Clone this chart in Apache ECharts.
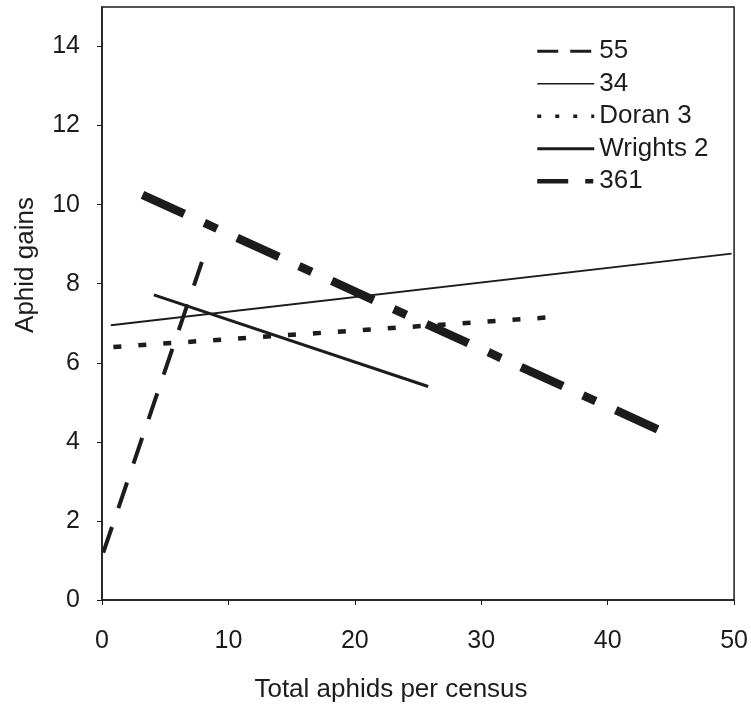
<!DOCTYPE html>
<html>
<head>
<meta charset="utf-8">
<script src="https://cdn.jsdelivr.net/npm/echarts@6/dist/echarts.min.js"></script>
<style>html,body{margin:0;padding:0;background:#fff}#c{width:751px;height:710px}</style>
</head>
<body>
<div id="c"></div>
<script>
// ---- data ----
const seriesNames = ['55', '34', 'Doran 3', 'Wrights 2', '361'];
const x55 = [0.1, 7.9];        const y55 = [1.2, 8.55];
const x34 = [0.7, 49.8];       const y34 = [6.95, 8.76];
const xDoran3 = [0.9, 35.4];   const yDoran3 = [6.4, 7.15];
const xWrights2 = [4.1, 25.8]; const yWrights2 = [7.72, 5.4];
const x361 = [3.2, 44.9];      const y361 = [10.25, 4.18];
const xTicks = [0, 10, 20, 30, 40, 50];
const yTicks = [0, 2, 4, 6, 8, 10, 12, 14];
const xTitle = 'Total aphids per census';
const yTitle = 'Aphid gains';

const ink = '#1c1c1c';
const font = 'Liberation Sans, Arial, sans-serif';
const pairs = (xs, ys) => xs.map((x, i) => [x, ys[i]]);

const styles = {
  '55':        { width: 4,   type: [27, 20] },
  '34':        { width: 1.8, type: 'solid' },
  'Doran 3':   { width: 4.5, type: [8, 17] },
  'Wrights 2': { width: 3,   type: 'solid' },
  '361':       { width: 8.5, type: [46, 22, 14, 22] }
};
const legendStyles = {
  '55':        { width: 3,   type: [21, 12] },
  '34':        { width: 1.5, type: 'solid' },
  'Doran 3':   { width: 3.5, type: [4, 14] },
  'Wrights 2': { width: 3,   type: 'solid' },
  '361':       { width: 4.5, type: [31, 17, 8, 20] }
};
const dataSets = {
  '55': pairs(x55, y55),
  '34': pairs(x34, y34),
  'Doran 3': pairs(xDoran3, yDoran3),
  'Wrights 2': pairs(xWrights2, yWrights2),
  '361': pairs(x361, y361)
};

const chart = echarts.init(document.getElementById('c'), null, { renderer: 'canvas' });
chart.setOption({
  animation: false,
  backgroundColor: '#fff',
  grid: { left: 102, right: 14, top: 7, bottom: 110, show: true, borderColor: ink, borderWidth: 1.5, backgroundColor: 'transparent' },
  xAxis: {
    type: 'value', min: 0, max: 50, interval: 10,
    axisLine: { show: true, lineStyle: { color: ink, width: 1.5 } },
    axisTick: { show: true, inside: false, length: 5, lineStyle: { color: ink, width: 1 }, customValues: xTicks },
    axisLabel: { color: ink, fontSize: 25, fontFamily: font, margin: 29, customValues: xTicks },
    splitLine: { show: false }
  },
  yAxis: {
    type: 'value', min: 0, max: 15, interval: 2,
    axisLine: { show: true, lineStyle: { color: ink, width: 1.5 } },
    axisTick: { show: true, inside: false, length: 5, lineStyle: { color: ink, width: 1 }, customValues: yTicks },
    axisLabel: { color: ink, fontSize: 25, fontFamily: font, margin: 22, customValues: yTicks },
    splitLine: { show: false }
  },
  legend: {
    orient: 'vertical', left: 530, top: 30, padding: 5,
    itemWidth: 57, itemHeight: 12, itemGap: 0,
    itemStyle: { opacity: 0 },
    textStyle: { color: ink, fontSize: 26, fontFamily: font, lineHeight: 32.5 },
    data: seriesNames.map(n => ({ name: n, itemStyle: { opacity: 0 }, lineStyle: { color: ink, opacity: 1, width: legendStyles[n].width, type: legendStyles[n].type } }))
  },
  graphic: [
    { type: 'text', x: 391, y: 690, style: { text: xTitle, fontSize: 26, fontFamily: font, fill: ink, textAlign: 'center', textVerticalAlign: 'middle' } },
    { type: 'text', x: 26, y: 265, rotation: Math.PI / 2, style: { text: yTitle, fontSize: 26, fontFamily: font, fill: ink, textAlign: 'center', textVerticalAlign: 'middle' } }
  ],
  series: seriesNames.map(n => ({
    name: n, type: 'line', data: dataSets[n], showSymbol: false, symbol: 'none',
    lineStyle: { color: ink, width: styles[n].width, type: styles[n].type, cap: 'butt' },
    itemStyle: { color: ink },
    silent: true
  }))
});
</script>
</body>
</html>
